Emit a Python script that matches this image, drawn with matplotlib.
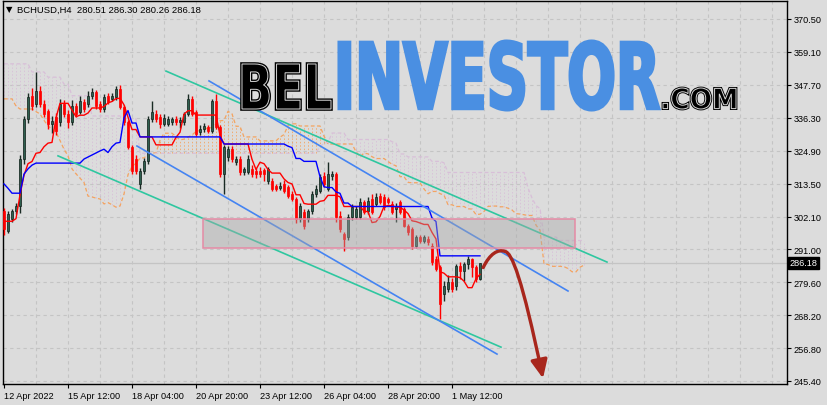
import numpy as np
import pandas as pd
import matplotlib
matplotlib.use("Agg")
import matplotlib.pyplot as plt
from matplotlib.patches import Rectangle, PathPatch, FancyArrowPatch
from matplotlib.path import Path
from matplotlib.textpath import TextPath
from matplotlib.font_manager import FontProperties
from matplotlib.transforms import Affine2D, blended_transform_factory

# ---- data: BCHUSD H4 candles ----
opens = [304.1, 297.2, 301.4, 304.1, 305.9, 322.1, 335.9, 343.9, 341.1, 345.6,
         341.1, 338.7, 334.2, 336.6, 334.9, 341.1, 337.7, 334.9, 340.4, 338.4,
         341.8, 341.1, 343.9, 345.3, 341.1, 339.4, 343.9, 342.9, 343.5, 346.3,
         340.1, 334.9, 326.3, 322.1, 313.5, 318.0, 321.4, 335.9, 337.7, 336.6,
         334.2, 334.2, 334.9, 335.9, 334.9, 334.9, 337.7, 342.9, 338.4, 331.4,
         332.5, 333.2, 331.8, 342.2, 333.2, 316.9, 322.8, 325.6, 321.1, 322.1,
         317.6, 317.6, 318.7, 318.0, 318.0, 318.3, 314.5, 314.5, 312.8, 312.1,
         313.5, 312.4, 310.0, 308.3, 301.4, 303.8, 301.4, 304.1, 310.0, 311.1,
         316.2, 311.8, 316.2, 316.9, 302.4, 296.2, 295.2, 302.1, 302.1, 302.1,
         307.3, 304.1, 308.3, 306.6, 309.3, 309.0, 308.3, 306.6, 304.8, 307.3,
         304.8, 299.0, 297.9, 292.1, 295.2, 293.8, 294.5, 292.1, 287.6, 284.8,
         275.5, 277.2, 279.6, 278.2, 285.1, 283.4, 285.8, 287.6, 284.8, 280.51]
closes = [297.9, 303.1, 304.1, 305.9, 322.1, 335.9, 343.5, 340.4, 345.6, 341.1,
          337.7, 334.2, 335.3, 331.8, 341.1, 337.7, 334.9, 340.4, 337.7, 342.2,
          339.4, 343.9, 345.3, 340.4, 339.4, 343.5, 341.8, 343.9, 346.3, 340.1,
          334.9, 326.3, 318.0, 318.0, 318.0, 321.4, 335.9, 338.4, 335.9, 334.2,
          336.3, 335.9, 335.9, 334.9, 335.6, 337.7, 342.9, 337.7, 330.8, 332.5,
          333.5, 331.8, 342.2, 333.2, 316.9, 326.3, 325.6, 322.1, 322.1, 317.6,
          318.7, 322.1, 316.9, 316.9, 316.9, 316.9, 318.7, 311.8, 311.8, 312.8,
          311.1, 309.3, 308.3, 301.4, 305.9, 299.0, 304.1, 310.0, 311.8, 315.9,
          313.5, 316.9, 316.9, 302.1, 297.9, 294.5, 302.1, 305.5, 304.8, 307.3,
          303.8, 307.6, 303.8, 309.0, 307.3, 305.5, 307.3, 303.8, 305.9, 303.8,
          299.0, 296.9, 292.1, 295.2, 293.8, 295.2, 293.4, 286.5, 284.1, 272.0,
          278.2, 279.6, 277.2, 285.1, 283.4, 285.8, 287.6, 284.8, 280.6, 286.18]
highs = [305.2, 304.0, 305.0, 307.0, 323.5, 337.0, 345.0, 346.5, 352.2, 347.5,
         342.5, 339.5, 337.0, 338.0, 343.0, 342.5, 339.0, 342.5, 341.5, 344.0,
         343.0, 345.5, 346.5, 346.0, 342.0, 344.5, 345.0, 345.0, 347.5, 347.7,
         340.8, 335.5, 327.0, 323.5, 319.0, 322.5, 337.0, 342.2, 339.0, 337.5,
         337.5, 337.0, 336.8, 337.0, 336.5, 338.5, 344.6, 344.0, 339.0, 334.0,
         334.5, 334.0, 343.0, 344.6, 334.0, 327.0, 326.5, 326.5, 323.0, 323.0,
         319.5, 323.5, 320.0, 319.0, 319.5, 319.0, 319.5, 315.5, 313.5, 314.0,
         315.0, 313.0, 311.0, 309.0, 307.0, 305.0, 305.0, 311.0, 313.0, 317.0,
         317.5, 321.1, 318.0, 317.5, 304.0, 297.0, 303.0, 306.5, 306.0, 308.5,
         308.0, 309.0, 310.0, 310.5, 310.5, 310.0, 309.0, 307.5, 307.0, 308.0,
         305.5, 299.5, 298.5, 296.0, 296.0, 296.0, 295.5, 293.0, 288.5, 285.5,
         280.0, 282.0, 281.0, 286.0, 286.5, 286.5, 288.5, 288.0, 285.5, 286.30]
lows = [296.0, 296.5, 300.5, 303.0, 303.5, 320.5, 334.5, 339.0, 340.0, 340.0,
        336.5, 332.5, 331.0, 330.5, 333.5, 336.5, 333.0, 334.0, 336.5, 337.5,
        338.5, 340.0, 343.0, 339.5, 338.5, 338.5, 341.0, 342.0, 342.5, 339.5,
        334.0, 325.5, 316.9, 317.0, 311.8, 317.0, 320.5, 335.0, 335.0, 333.0,
        333.5, 333.5, 334.0, 334.0, 333.0, 334.0, 337.0, 337.0, 330.0, 330.5,
        331.5, 331.0, 331.0, 332.5, 316.0, 310.0, 321.5, 321.0, 320.0, 316.5,
        316.5, 317.0, 316.0, 315.5, 316.0, 314.5, 313.5, 311.0, 311.0, 311.5,
        310.5, 308.5, 307.5, 300.0, 300.5, 298.0, 300.5, 303.0, 309.0, 310.5,
        312.5, 311.0, 315.0, 300.5, 297.0, 290.3, 294.0, 301.0, 301.5, 301.5,
        303.0, 303.0, 303.0, 306.0, 306.5, 304.5, 306.5, 303.0, 300.5, 303.0,
        298.5, 296.0, 291.0, 291.5, 293.0, 293.0, 292.5, 285.5, 283.5, 266.8,
        273.0, 276.0, 276.0, 277.0, 280.5, 280.0, 284.0, 281.5, 279.5, 280.26]

# Ichimoku values at the left edge (they depend on bars before the visible window)
kijun_head = [313.5, 312.0, 310.3, 310.3, 310.3, 316.9, 318.7, 320.0, 320.7, 320.7,
              320.7, 320.7, 320.7, 320.7, 320.7, 320.7, 320.7, 320.7, 320.7, 320.7,
              322.1, 322.8, 323.5, 324.2, 324.9, 325.5]
span_a_head = [342.9, 342.9, 342.9, 340.4, 339.4, 339.4, 339.4, 339.4, 338.5, 337.7,
               335.5, 333.5, 332.5, 331.4, 328.5, 325.5, 323.2, 318.7, 317.0, 315.5,
               314.0, 309.3, 309.0, 308.6, 308.3, 306.6]
span_b_head = [355.0, 355.0, 355.0, 355.0, 355.0, 355.0, 355.0, 352.2, 352.2, 352.2,
               352.2, 350.4, 350.4, 350.4, 350.4, 348.0, 348.0, 344.0, 344.0, 344.0,
               344.0, 344.0, 337.0, 337.0, 337.0, 337.0, 337.0, 337.0, 337.0, 337.0,
               336.0, 336.0, 336.0, 336.0]

y_ticks = [370.50, 359.10, 347.70, 336.30, 324.90, 313.50, 302.10, 291.00,
           279.60, 268.20, 256.80, 245.40]
x_tick_bars = [0, 16, 32, 48, 64, 80, 96, 112]
x_tick_labels = ["12 Apr 2022", "15 Apr 12:00", "18 Apr 04:00", "20 Apr 20:00",
                 "23 Apr 12:00", "26 Apr 04:00", "28 Apr 20:00", "1 May 12:00"]

# analyst drawings: (bar, price) end points
channel_green = [((40.5, 352.5), (150.75, 286.5)), ((13.5, 323.2), (124.25, 257.1))]
channel_blue = [((51.25, 349.1), (141.0, 276.5)), ((33.25, 326.6), (123.25, 254.7))]
zone_bars = (49.75, 142.75)
zone_prices = (291.4, 301.4)
forecast = [(119.8, 284.6), (121.5, 289.5), (123.5, 291.0), (125.2, 290.2),
            (127.0, 289.8), (129.5, 281.0), (134.75, 246.3)]

BG = "#dcdcdc"
W, H = 828, 406
plt.rcParams["font.family"] = ["Liberation Sans", "DejaVu Sans"]

o = np.array(opens); c = np.array(closes)
hi = np.array(highs); lo = np.array(lows)
n = len(o)
idx = np.arange(n)

# Ichimoku (9, 26, 52)
hs, ls = pd.Series(hi), pd.Series(lo)
tenkan = ((hs.rolling(9, min_periods=1).max() + ls.rolling(9, min_periods=1).min()) / 2).to_numpy().copy()
kijun = ((hs.rolling(26, min_periods=1).max() + ls.rolling(26, min_periods=1).min()) / 2).to_numpy().copy()
kijun[:len(kijun_head)] = kijun_head
span_b_raw = ((hs.rolling(52, min_periods=1).max() + ls.rolling(52, min_periods=1).min()) / 2).to_numpy()
span_a = np.concatenate([span_a_head, (tenkan + kijun) / 2])
span_b = np.concatenate([np.full(26, np.nan), span_b_raw])
span_b[:len(span_b_head)] = span_b_head
cloud_x = np.arange(len(span_a))

fig = plt.figure(figsize=(W / 100, H / 100), dpi=100, facecolor=BG)
ax = fig.add_axes([3 / W, (H - 385) / H, (787 - 3) / W, (385 - 2) / H])
ax.set_facecolor(BG)
ax.set_xlim(-0.25, 195.75)
ax.set_ylim(244.36, 376.72)

# grid
for b in range(8, 196, 8):
    ax.axvline(b, color="#c4c4c4", lw=0.8, ls=(0, (3, 3)), zorder=0)
for yv in y_ticks:
    ax.axhline(yv, color="#c4c4c4", lw=0.8, ls=(0, (3, 3)), zorder=0)

# current price line
ax.axhline(closes[-1], color="#c4c4c4", lw=0.9, zorder=0.5)

# kumo
up_cloud = span_a >= span_b
ax.vlines(cloud_x, np.minimum(span_a, span_b), np.maximum(span_a, span_b),
          colors=np.where(up_cloud, "#f4a460", "#d8bfd8"), lw=0.7, alpha=0.85,
          linestyles=[(0, (1.5, 2))], zorder=1)
ax.plot(cloud_x, span_a, color="#f4a460", lw=0.9, ls=(0, (3, 2)), zorder=1.2)
ax.plot(cloud_x, span_b, color="#d8bfd8", lw=0.9, ls=(0, (3, 2)), zorder=1.2)

# candles
bull = c >= o
ax.vlines(idx, lo, hi, colors=np.where(bull, "#1a2a24", "#ff0000"), lw=1, zorder=3)
ax.bar(idx, np.maximum(np.abs(c - o), 0.25), bottom=np.minimum(o, c), width=0.72,
       color=np.where(bull, "#2f5f4f", "#ff0000"),
       edgecolor=np.where(bull, "#10201a", "#ff0000"), lw=0.5, zorder=3.5)

# tenkan / kijun
ax.plot(idx, tenkan, color="#ff0000", lw=1, zorder=4)
ax.plot(idx, kijun, color="#0000ff", lw=1, zorder=4)

# channels
for (p0, p1) in channel_green:
    ax.plot([p0[0], p1[0]], [p0[1], p1[1]], color="#2fc7a0", lw=1.2, zorder=5)
for (p0, p1) in channel_blue:
    ax.plot([p0[0], p1[0]], [p0[1], p1[1]], color="#4584f2", lw=1.2, zorder=5)

# resistance zone
ax.add_patch(Rectangle((zone_bars[0], zone_prices[0]), zone_bars[1] - zone_bars[0],
                       zone_prices[1] - zone_prices[0], facecolor="#a8a8a8", alpha=0.42,
                       edgecolor="none", zorder=6))
ax.add_patch(Rectangle((zone_bars[0], zone_prices[0]), zone_bars[1] - zone_bars[0],
                       zone_prices[1] - zone_prices[0], facecolor="none",
                       edgecolor="#e58aa5", lw=1.1, zorder=6.1))

# forecast arrow
fp_path = Path(forecast, [Path.MOVETO, Path.CURVE4, Path.CURVE4, Path.CURVE4,
                          Path.CURVE4, Path.CURVE4, Path.CURVE4])
ax.add_patch(FancyArrowPatch(path=fp_path, arrowstyle="-|>,head_length=0.55,head_width=0.25",
                             mutation_scale=20, color="#a8261c", lw=2.4, zorder=7))

# axes styling
for s in ax.spines.values():
    s.set_color("black")
    s.set_linewidth(1)
ax.yaxis.tick_right()
ax.set_yticks(y_ticks)
ax.set_yticklabels([f"{v:.2f}" for v in y_ticks])
ax.set_xticks(x_tick_bars)
ax.set_xticklabels(x_tick_labels)
for lbl in ax.get_xticklabels():
    lbl.set_horizontalalignment("left")
ax.tick_params(axis="y", length=3, width=0.8, pad=2, labelsize=6.6, colors="black")
ax.tick_params(axis="x", length=3, width=0.8, pad=2, labelsize=6.6, colors="black")

# current price tag
trans = blended_transform_factory(ax.transAxes, ax.transData)
ax.text(1.003, closes[-1], f"{closes[-1]:.2f}", transform=trans, ha="left", va="center",
        fontsize=6.6, color="white",
        bbox=dict(boxstyle="square,pad=0.2", facecolor="black", edgecolor="black"))

# header
fig.text(6 / W, 1 - 10 / H, "\u25bc", fontsize=6, va="center", ha="left",
         family=["DejaVu Sans"])
fig.text(17 / W, 1 - 10 / H,
         f"BCHUSD,H4  {opens[-1]:.2f} {highs[-1]:.2f} {lows[-1]:.2f} {closes[-1]:.2f}",
         fontsize=6.8, va="center", ha="left")


# watermark logo
def logo_word(text, box, face, edge=None, lw=0.0, inner=None):
    prop = FontProperties(family=["Liberation Sans Narrow", "DejaVu Sans"], weight="bold")
    tp = TextPath((0, 0), text, size=100, prop=prop)
    ext = tp.get_extents()
    x0, ytop, x1, ybot = box
    tr = (Affine2D().translate(-ext.x0, -ext.y0)
          .scale((x1 - x0) / ext.width, (ybot - ytop) / ext.height)
          .translate(x0, H - ybot).scale(1 / W, 1 / H) + fig.transFigure)
    fig.add_artist(PathPatch(tp, transform=tr, facecolor=face,
                             edgecolor=edge if edge else "none", lw=lw, zorder=20))
    if inner:
        fig.add_artist(PathPatch(tp, transform=tr, facecolor="none",
                                 edgecolor=inner, lw=0.7, zorder=21))


logo_word("BEL", (242, 65, 331, 110), "black", edge="black", lw=2.6, inner="#d8d8d8")
logo_word("INVESTOR", (339, 42, 659, 111), "#4a8fe2", edge="#4a8fe2", lw=2.2)
logo_word(".COM", (663, 89, 736, 110), "black", edge="black", lw=2.0, inner="#d8d8d8")

fig.savefig("out.png", dpi=100, facecolor=BG)
